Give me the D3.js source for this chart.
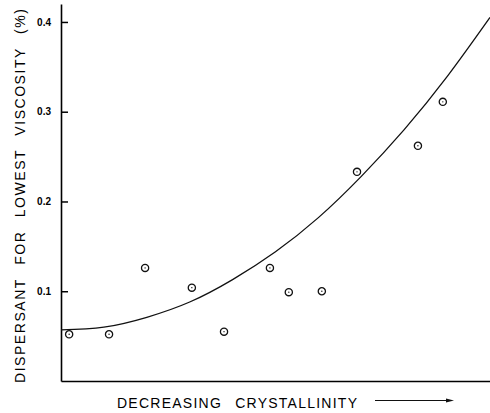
<!DOCTYPE html>
<html>
<head>
<script src="https://d3js.org/d3.v7.min.js"></script>
<style>
  html, body { margin: 0; padding: 0; background: #fff; overflow: hidden; }
  svg { display: block; }
</style>
</head>
<body>
<script>
// observed points: x in arbitrary units (0..100 across the axis), y in %
const pointX = [1.9, 11.2, 19.6, 30.5, 38.0, 48.7, 53.1, 60.8, 69.0, 83.2, 89.0];
const pointY = [0.052, 0.052, 0.126, 0.104, 0.055, 0.126, 0.099, 0.100, 0.233, 0.262, 0.311];

// fitted curve
const curveX = [0, 10, 20, 30, 40, 50, 60, 70, 80, 90, 100];
const curveY = [0.057, 0.060, 0.071, 0.088, 0.113, 0.144, 0.182, 0.228, 0.280, 0.339, 0.405];

const yTicks = [0.1, 0.2, 0.3, 0.4];
const yLabel = "DISPERSANT FOR LOWEST VISCOSITY (%)";
const xLabel = "DECREASING CRYSTALLINITY";

const WIDTH = 490, HEIGHT = 413;
const FONT = "'Liberation Sans', Arial, sans-serif";

const svg = d3.select("body").append("svg")
  .attr("width", WIDTH)
  .attr("height", HEIGHT);

const x = d3.scaleLinear().domain([0, 100]).range([61, 490]);
const y = d3.scaleLinear().domain([0, 0.42]).range([381, 4]);

// y axis: ticks point inward, labels to the left
const yAxis = svg.append("g")
  .attr("transform", `translate(${x(0)},0)`)
  .call(d3.axisLeft(y)
    .tickValues(yTicks)
    .tickSizeInner(-7)
    .tickSizeOuter(0)
    .tickPadding(10)
    .tickFormat(d3.format(".1f")));
yAxis.select(".domain").attr("stroke-width", 1.6);
yAxis.selectAll(".tick line").attr("stroke-width", 1.5);
yAxis.selectAll(".tick text")
  .style("font-family", FONT)
  .style("font-size", "10px")
  .style("font-weight", "bold");

// x axis: plain line, no ticks
const xAxis = svg.append("g")
  .attr("transform", `translate(0,${y(0)})`)
  .call(d3.axisBottom(x).tickValues([]).tickSizeOuter(0));
xAxis.select(".domain").attr("stroke-width", 1.6);

// fitted curve
const line = d3.line()
  .x(d => x(d[0]))
  .y(d => y(d[1]))
  .curve(d3.curveNatural);

svg.append("path")
  .datum(d3.zip(curveX, curveY))
  .attr("fill", "none")
  .attr("stroke", "#111")
  .attr("stroke-width", 1.3)
  .attr("d", line);

// data points: open circles with a centre dot
const pts = svg.append("g").selectAll("g")
  .data(d3.zip(pointX, pointY))
  .join("g")
  .attr("transform", d => `translate(${x(d[0])},${y(d[1])})`);
pts.append("circle")
  .attr("r", 3.6)
  .attr("fill", "#fff")
  .attr("stroke", "#111")
  .attr("stroke-width", 1.3);
pts.append("circle")
  .attr("r", 0.7)
  .attr("fill", "#111");

// y label
svg.append("text")
  .attr("transform", "translate(24.5,196) rotate(-90)")
  .attr("text-anchor", "middle")
  .attr("textLength", 374)
  .attr("lengthAdjust", "spacing")
  .style("font-family", FONT)
  .style("font-size", "14px")
  .style("word-spacing", "8px")
  .text(yLabel);

// x label
svg.append("text")
  .attr("x", 117)
  .attr("y", 408)
  .attr("textLength", 240)
  .attr("lengthAdjust", "spacing")
  .style("font-family", FONT)
  .style("font-size", "14px")
  .style("word-spacing", "8px")
  .text(xLabel);

// arrow after x label
svg.append("line")
  .attr("x1", 375).attr("x2", 448)
  .attr("y1", 400.5).attr("y2", 400.5)
  .attr("stroke", "#111")
  .attr("stroke-width", 1.2);
svg.append("path")
  .attr("d", "M446,398.5 L454,400.5 L446,402.5 Z")
  .attr("fill", "#111");
</script>
</body>
</html>
